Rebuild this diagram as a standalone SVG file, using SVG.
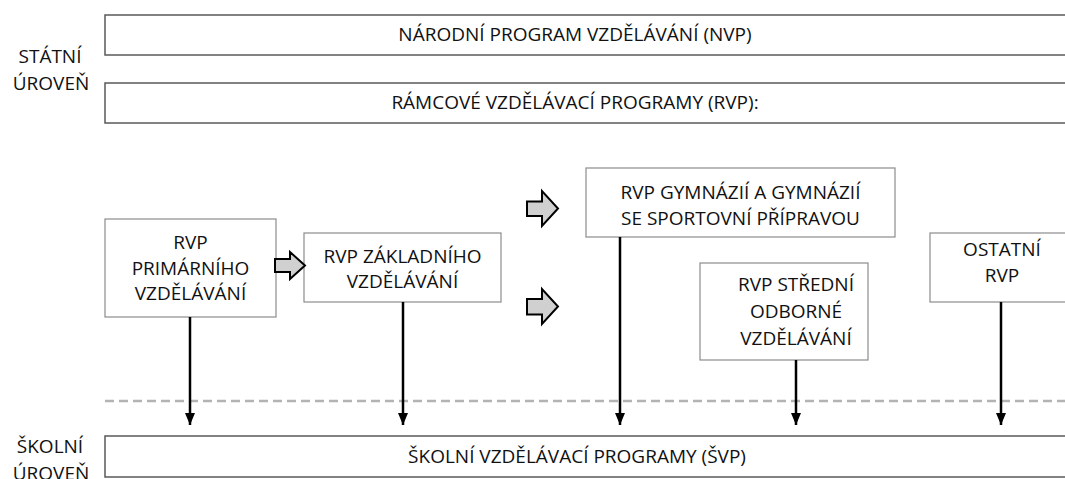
<svg xmlns="http://www.w3.org/2000/svg" width="1065" height="479" viewBox="0 0 1065 479">
<style>
  text { font-family: "Open Sans", "Noto Sans", "Liberation Sans", sans-serif; font-size: 19px; fill: #111111; text-anchor: middle; }
  .big { fill: #ffffff; stroke: #5a5a5a; stroke-width: 1.5; }
  .node { fill: #ffffff; stroke: #8c8c8c; stroke-width: 1.2; }
  .fat { fill: #d0d0d0; stroke: #000000; stroke-width: 2; stroke-linejoin: miter; }
  .conn { stroke: #000000; stroke-width: 2.5; fill: none; }
  .dash { stroke: #b3b3b3; stroke-width: 2.5; stroke-dasharray: 9 5; fill: none; }
</style>
<defs>
  <marker id="ah" markerWidth="12" markerHeight="10" refX="12" refY="5" orient="auto" markerUnits="userSpaceOnUse" viewBox="0 0 12 10">
    <path d="M0,0 L12,5 L0,10 Z" fill="#000000"/>
  </marker>
</defs>
<rect width="1065" height="479" fill="#ffffff"/>

<g id="labels">
  <text x="50" y="63">STÁTNÍ</text>
  <text x="51" y="90">ÚROVEŇ</text>
  <text x="50" y="453">ŠKOLNÍ</text>
  <text x="51" y="480">ÚROVEŇ</text>
</g>

<line class="dash" x1="105" y1="401" x2="1065" y2="401"/>

<g id="nvp">
  <rect class="big" x="105" y="15" width="1000" height="40"/>
  <text x="575" y="41">NÁRODNÍ PROGRAM VZDĚLÁVÁNÍ (NVP)</text>
</g>
<g id="rvp">
  <rect class="big" x="105" y="83" width="1000" height="40"/>
  <text x="575" y="109">RÁMCOVÉ VZDĚLÁVACÍ PROGRAMY (RVP):</text>
</g>
<g id="svp">
  <rect class="big" x="105" y="436" width="1000" height="41"/>
  <text x="577" y="463">ŠKOLNÍ VZDĚLÁVACÍ PROGRAMY (ŠVP)</text>
</g>

<g id="primarni">
  <rect class="node" x="105" y="219" width="171" height="98"/>
  <text x="190.5" y="249">RVP</text>
  <text x="190.5" y="274.5">PRIMÁRNÍHO</text>
  <text x="190.5" y="300">VZDĚLÁVÁNÍ</text>
</g>
<g id="zakladni">
  <rect class="node" x="304" y="233" width="197" height="69"/>
  <text x="402.5" y="262.5">RVP ZÁKLADNÍHO</text>
  <text x="402.5" y="288">VZDĚLÁVÁNÍ</text>
</g>
<g id="gymnazia">
  <rect class="node" x="586" y="168" width="309" height="69"/>
  <text x="740.5" y="199">RVP GYMNÁZIÍ A GYMNÁZIÍ</text>
  <text x="740.5" y="224.5">SE SPORTOVNÍ PŘÍPRAVOU</text>
</g>
<g id="stredni">
  <rect class="node" x="700" y="263" width="168" height="97"/>
  <text x="796" y="291">RVP STŘEDNÍ</text>
  <text x="796" y="318">ODBORNÉ</text>
  <text x="796" y="345">VZDĚLÁVÁNÍ</text>
</g>
<g id="ostatni">
  <rect class="node" x="930" y="233" width="160" height="69"/>
  <text x="1002" y="256">OSTATNÍ</text>
  <text x="1002" y="282">RVP</text>
</g>

<g id="connectors">
  <path class="fat" d="M275,259 L290,259 L290,252 L305,265.5 L290,279 L290,272 L275,272 Z"/>
  <path class="fat" d="M527,201.5 L542,201.5 L542,191 L558,208.5 L542,226 L542,216 L527,216 Z"/>
  <path class="fat" d="M527,299 L542,299 L542,289 L558,306.5 L542,324 L542,314.5 L527,314.5 Z"/>
  <line class="conn" x1="190" y1="317" x2="190" y2="425" marker-end="url(#ah)"/>
  <line class="conn" x1="403" y1="302" x2="403" y2="425" marker-end="url(#ah)"/>
  <line class="conn" x1="620" y1="237" x2="620" y2="425" marker-end="url(#ah)"/>
  <line class="conn" x1="796" y1="360" x2="796" y2="425" marker-end="url(#ah)"/>
  <line class="conn" x1="1001" y1="302" x2="1001" y2="425" marker-end="url(#ah)"/>
</g>
</svg>
